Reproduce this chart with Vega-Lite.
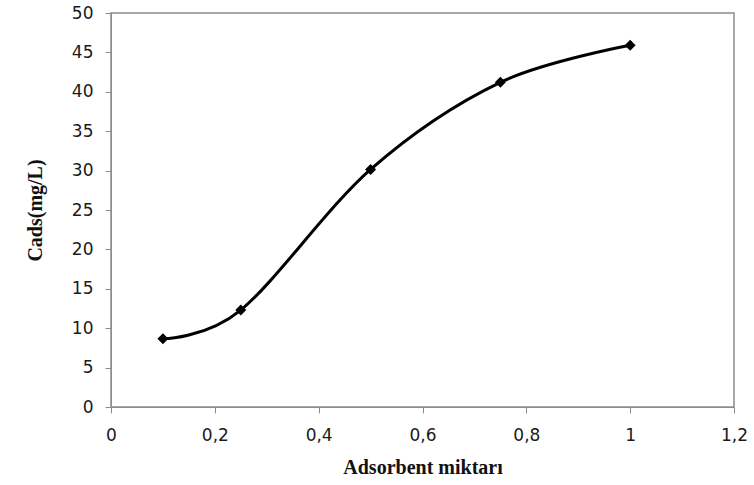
{
  "$schema": "https://vega.github.io/schema/vega-lite/v6.json",
  "width": 623,
  "height": 394,
  "autosize": {"type": "none"},
  "padding": {"left": 111, "top": 13, "right": 20, "bottom": 78},
  "background": "white",
  "config": {
    "view": {"stroke": "#8c8c8c", "strokeWidth": 1.5},
    "axis": {"grid": false, "domainColor": "#8c8c8c", "tickColor": "#8c8c8c", "labelFont": "DejaVu Sans", "labelFontSize": 17, "labelColor": "#1a1a1a", "titleFont": "Liberation Serif", "titleFontWeight": "bold", "titleFontSize": 20, "titleColor": "#111"}
  },
  "data": {"values": [
    {"x": 0.1, "y": 8.65},
    {"x": 0.25, "y": 12.3},
    {"x": 0.5, "y": 30.15},
    {"x": 0.75, "y": 41.2},
    {"x": 1.0, "y": 45.9}
  ]},
  "encoding": {
    "x": {"field": "x", "type": "quantitative", "scale": {"domain": [0, 1.2], "nice": false},
      "axis": {"values": [0, 0.2, 0.4, 0.6, 0.8, 1, 1.2], "labelExpr": "replace(format(datum.value, '~g'), '.', ',')", "title": "Adsorbent miktarı", "tickSize": 6, "labelPadding": 14, "titlePadding": 14, "labelFlush": false}},
    "y": {"field": "y", "type": "quantitative", "scale": {"domain": [0, 50], "nice": false},
      "axis": {"values": [0, 5, 10, 15, 20, 25, 30, 35, 40, 45, 50], "title": "Cads(mg/L)", "tickSize": 6, "labelPadding": 12, "titlePadding": 26}}
  },
  "layer": [
    {"mark": {"type": "line", "interpolate": "cardinal", "color": "black", "strokeWidth": 3}},
    {"mark": {"type": "point", "shape": "diamond", "filled": true, "color": "black", "size": 120, "opacity": 1}}
  ]
}
